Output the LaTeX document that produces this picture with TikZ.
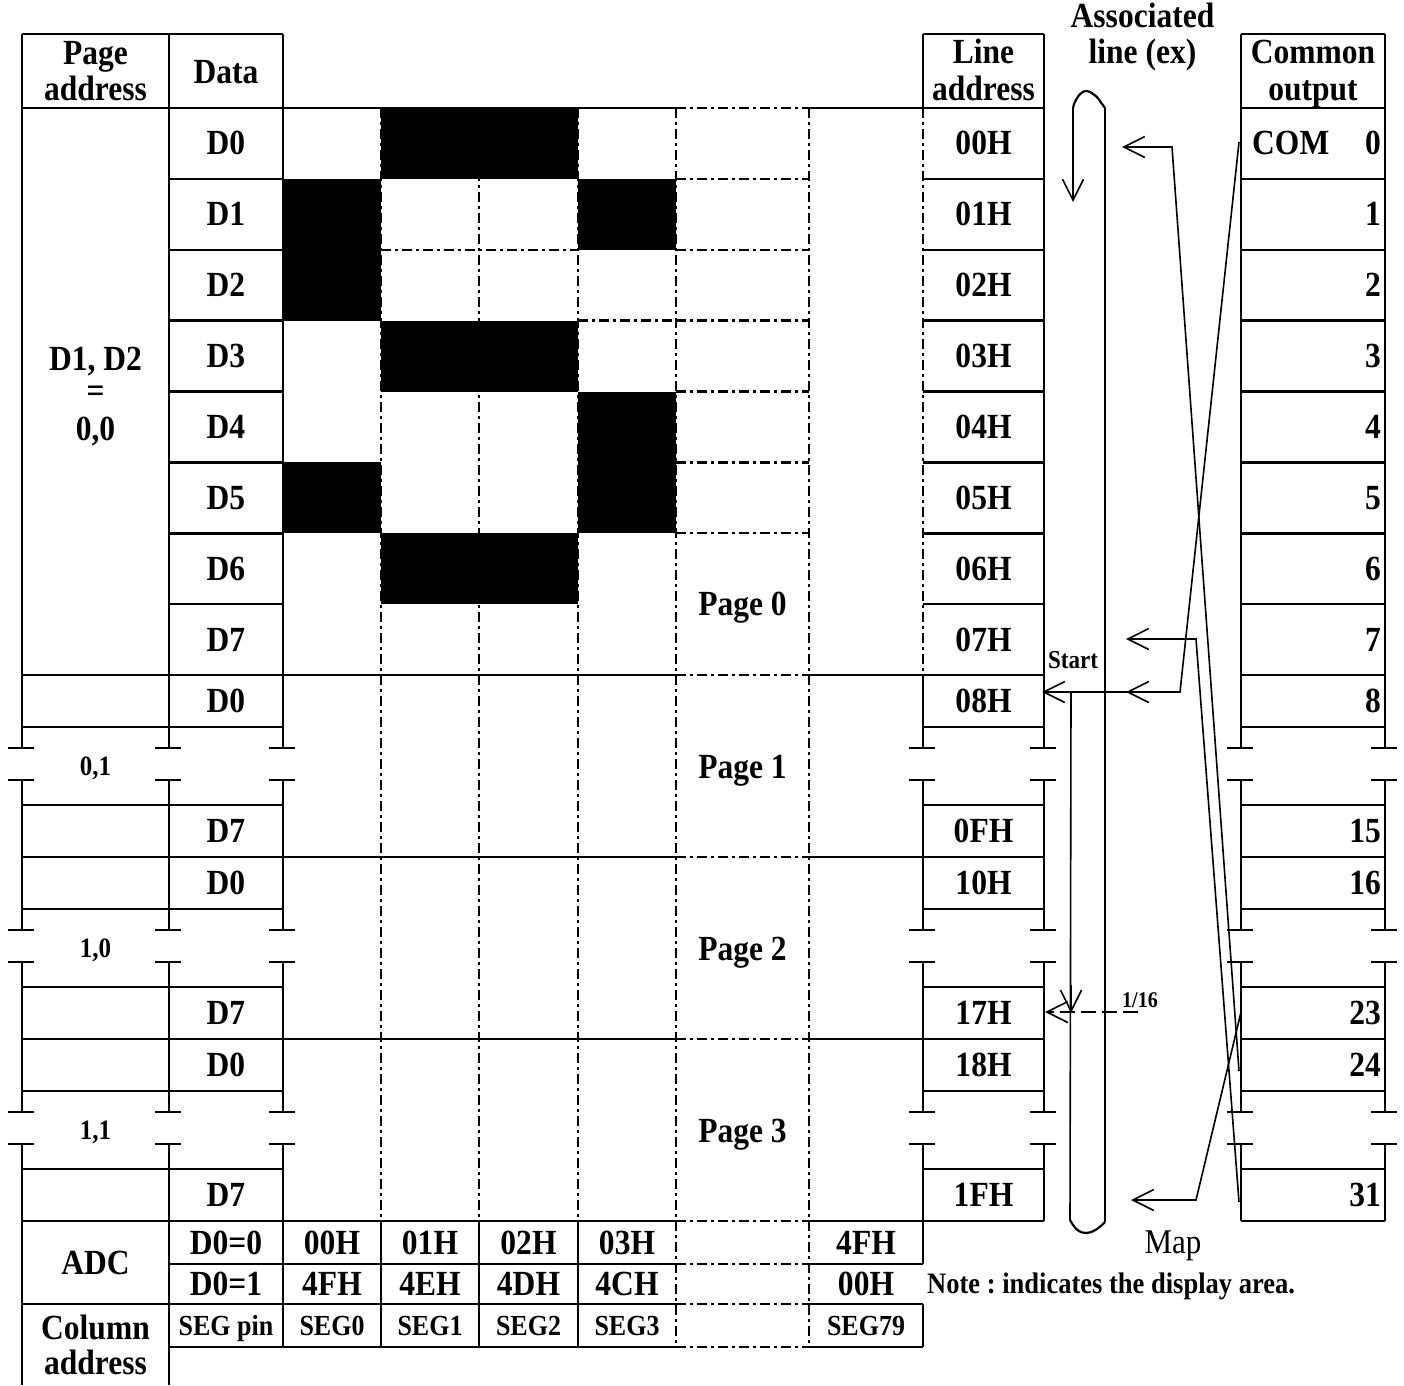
\documentclass[tikz,border=0pt]{standalone}
\usepackage{fontspec}
\setmainfont{Liberation Serif}[FakeStretch=0.893]
\usetikzlibrary{arrows.meta}
\begin{document}
\frenchspacing
\begin{tikzpicture}[x=1pt,y=-1pt,
 tl/.style={line width=2.5pt},
 dd/.style={line width=2.3pt,dash pattern=on 10pt off 4pt on 3pt off 4pt},
 conn/.style={line width=1.6pt},
 barb/.style={-{Straight Barb[length=21pt,width=21pt]}},
 tA/.style={font=\fontsize{35.3}{40}\selectfont\bfseries,inner sep=0pt,text height=23pt,text depth=0pt},
 tS/.style={font=\fontsize{29.1}{33}\selectfont\bfseries,inner sep=0pt,text height=19pt,text depth=0pt},
 tP/.style={font=\fontsize{28}{32}\selectfont\bfseries,inner sep=0pt,text height=18.3pt,text depth=0pt},
 tB/.style={font=\fontsize{35.3}{40}\selectfont\bfseries,inner sep=0pt,anchor=base},
]
\useasboundingbox (0,0) rectangle (1404,1385);

% ---------- page 0 display: dash-dot grid ----------
\foreach \x in {381,479,578} \draw[dd] (\x,108) -- (\x,1221);
\foreach \x in {676,809} \draw[dd] (\x,108) -- (\x,1347);
\foreach \y in {178.875,249.75,320.625,391.5,462.375,533.25} \draw[dd] (676,\y) -- (809,\y);
\draw[dd] (381,249.75) -- (578,249.75);
\draw[dd] (578,320.625) -- (676,320.625);

% black pixels
\fill (381,108) rectangle (578,178.875);
\fill (283,178.875) rectangle (381,320.625);
\fill (578,178.875) rectangle (676,249.75);
\fill (381,320.625) rectangle (578,391.5);
\fill (578,391.5) rectangle (676,533.25);
\fill (283,462.375) rectangle (381,533.25);
\fill (381,533.25) rectangle (578,604.125);

% ---------- vertical table lines with breaks ----------
\foreach \x/\e in {22/1385,169/1385,283/1347,1044/1221,1241/1221,1385/1221}
  \draw[tl] (\x,34) -- (\x,748) (\x,780) -- (\x,930) (\x,962) -- (\x,1112) (\x,1144) -- (\x,\e);
\draw[tl] (923,34) -- (923,108);
\draw[dd] (923,108) -- (923,675);
\draw[tl] (923,675) -- (923,748) (923,780) -- (923,930) (923,962) -- (923,1112)
  (923,1144) -- (923,1264) (923,1304) -- (923,1347);
\foreach \x in {381,479,578} \draw[tl] (\x,1221) -- (\x,1347);
% break ticks
\foreach \x in {22,169,283,923,1044,1241,1385}
  \foreach \y in {748,780,930,962,1112,1144}
    \draw[tl] (\x-14,\y) -- (\x+12,\y);

% ---------- horizontal table lines ----------
\draw[tl] (22,34) -- (283,34) (923,34) -- (1044,34) (1241,34) -- (1385,34);
\foreach \y in {108,675,857,1039,1221} {
  \draw[tl] (22,\y) -- (676,\y) (809,\y) -- (1044,\y) (1241,\y) -- (1385,\y);
  \draw[dd] (676,\y) -- (809,\y);
}
\foreach \y in {178.875,249.75,320.625,391.5,462.375,533.25,604.125}
  \draw[tl] (169,\y) -- (283,\y) (923,\y) -- (1044,\y) (1241,\y) -- (1385,\y);
\foreach \y in {727,805,909,987,1091,1169}
  \draw[tl] (22,\y) -- (283,\y) (923,\y) -- (1044,\y) (1241,\y) -- (1385,\y);
\draw[tl] (169,1264) -- (676,1264) (809,1264) -- (923,1264);
\draw[tl] (22,1304) -- (676,1304) (809,1304) -- (923,1304);
\draw[tl] (169,1347) -- (676,1347) (809,1347) -- (923,1347);
\draw[dd] (676,1264) -- (809,1264) (676,1304) -- (809,1304) (676,1347) -- (809,1347);

% ---------- headers ----------
\node[tB] (hpa1) at (95.5,64) {Page};
\node[tB] (hpa2) at (95.5,100) {address};
\node[tB] (hdat) at (226,83) {Data};
\node[tB] (hla1) at (983.5,63) {Line};
\node[tB] (hla2) at (983.5,100) {address};
\node[tB] (has1) at (1142.5,27) {Associated};
\node[tB] (has2) at (1142.5,63) {line (ex)};
\node[tB] (hco1) at (1313,63) {Common};
\node[tB] (hco2) at (1313,100) {output};

% ---------- page 0 labels ----------
\node[tB] (pa0a) at (95.5,370) {D1, D2};
\node[tB] (pa0b) at (95.5,402) {=};
\node[tB] (pa0c) at (95.5,440) {0,0};
\foreach \i/\yc in {0/143.44,1/214.31,2/285.19,3/356.06,4/426.94,5/497.81,6/568.69,7/639.56} {
  \node[tA] (dat\i) at (226,\yc) {D\i};
  \node[tA] (lad\i) at (983.5,\yc) {0\i H};
  \node[tA,anchor=east] (com\i) at (1381,\yc) {\i};
}
\node[tA,anchor=west] (comlbl) at (1252,143.44) {COM};
\node[tA] (pg0) at (742.5,604.1) {Page 0};

% ---------- pages 1-3 labels ----------
\node[tA] (p1d0) at (226,701) {D0};
\node[tA] (p1d7) at (226,831) {D7};
\node[tP] (pa1) at (95.5,766.5) {0,1};
\node[tA] (pg1) at (742.5,766.5) {Page 1};
\node[tA] (la8) at (983.5,701) {08H};
\node[tA] (la15) at (983.5,831) {0FH};
\node[tA,anchor=east] (co8) at (1381,701) {8};
\node[tA,anchor=east] (co15) at (1381,831) {15};

\node[tA] (p2d0) at (226,883) {D0};
\node[tA] (p2d7) at (226,1013) {D7};
\node[tP] (pa2) at (95.5,948.5) {1,0};
\node[tA] (pg2) at (742.5,948.5) {Page 2};
\node[tA] (la16) at (983.5,883) {10H};
\node[tA] (la23) at (983.5,1013) {17H};
\node[tA,anchor=east] (co16) at (1381,883) {16};
\node[tA,anchor=east] (co23) at (1381,1013) {23};

\node[tA] (p3d0) at (226,1065) {D0};
\node[tA] (p3d7) at (226,1195) {D7};
\node[tP] (pa3) at (95.5,1130.5) {1,1};
\node[tA] (pg3) at (742.5,1130.5) {Page 3};
\node[tA] (la24) at (983.5,1065) {18H};
\node[tA] (la31) at (983.5,1195) {1FH};
\node[tA,anchor=east] (co24) at (1381,1065) {24};
\node[tA,anchor=east] (co31) at (1381,1195) {31};

% ---------- ADC / column address ----------
\node[tA] (adc) at (95.5,1263) {ADC};
\node[tB] (cola) at (95.5,1339) {Column};
\node[tB] (colb) at (95.5,1374) {address};
\node[tA] (r0a) at (226,1243) {D0=0};
\node[tA] (r0b) at (332,1243) {00H};
\node[tA] (r0c) at (430,1243) {01H};
\node[tA] (r0d) at (528.5,1243) {02H};
\node[tA] (r0e) at (627,1243) {03H};
\node[tA] (r0f) at (866,1243) {4FH};
\node[tA] (r1a) at (226,1284) {D0=1};
\node[tA] (r1b) at (332,1284) {4FH};
\node[tA] (r1c) at (430,1284) {4EH};
\node[tA] (r1d) at (528.5,1284) {4DH};
\node[tA] (r1e) at (627,1284) {4CH};
\node[tA] (r1f) at (866,1284) {00H};
\node[tS] (s0) at (226,1325.5) {SEG pin};
\node[tS] (s1) at (332,1325.5) {SEG0};
\node[tS] (s2) at (430,1325.5) {SEG1};
\node[tS] (s3) at (528.5,1325.5) {SEG2};
\node[tS] (s4) at (627,1325.5) {SEG3};
\node[tS] (s5) at (866,1325.5) {SEG79};

% ---------- map tube ----------
\coordinate (tubeTL) at (1073,108);
\coordinate (tubeArr) at (1073,202);
\coordinate (tubeTR) at (1105,108);
\coordinate (tubeBR) at (1105,1222);
\coordinate (tubeIL) at (1071,692);
\coordinate (tubeBL) at (1070,1220);
\draw[conn,barb] (tubeTL) -- (tubeArr);
\draw[line width=2.2pt,line join=round] (tubeTL) -- (1074,104) .. controls (1078,95) and (1082,91) .. (1086,91)
  .. controls (1090,91) and (1093,94) .. (1097,97) -- (tubeTR);
\draw[conn] (tubeTR) -- (tubeBR);
\draw[conn] (tubeIL) -- (tubeBL);
\draw[line width=2.2pt] (tubeBL) .. controls (1075,1229) and (1079,1233) .. (1086,1233)
  .. controls (1093,1233) and (1099,1228) .. (tubeBR);

% ---------- connectors ----------
\coordinate (cA0) at (1239,142);
\coordinate (cA1) at (1180,692);
\coordinate (cAm) at (1126,692);
\coordinate (cAt) at (1042,692);
\draw[conn,barb] (cA0) -- (cA1) -- (cAt);
\draw[conn,barb] (cA1) -- (cAm);

\coordinate (cB0) at (1239,1071);
\coordinate (cB1) at (1172,147);
\coordinate (cB2) at (1122,147);
\draw[conn,barb] (cB0) -- (cB1) -- (cB2);

\coordinate (cC0) at (1239,1202);
\coordinate (cC1) at (1196,639);
\coordinate (cC2) at (1126,639);
\draw[conn,barb] (cC0) -- (cC1) -- (cC2);

\coordinate (cD0) at (1241,1012);
\coordinate (cD1) at (1196,1200);
\coordinate (cD2) at (1131,1200);
\draw[conn,barb] (cD0) -- (cD1) -- (cD2);

\coordinate (dsh0) at (1138,1012);
\coordinate (dsh1) at (1045,1012);
\draw[conn,barb,dash pattern=on 15pt off 6pt] (dsh0) -- (dsh1);
\coordinate (vA) at (1071,985);
\coordinate (vB) at (1071,1013);
\draw[conn,barb] (vA) -- (vB);

% ---------- small texts ----------
\node[font=\fontsize{25.8}{29}\selectfont\bfseries,inner sep=0pt] (start) at (1073,660) {Start};
\node[font=\fontsize{22.4}{26}\selectfont\bfseries,inner sep=0pt] (frac) at (1140,1000) {1/16};
\node[font=\fontsize{34.7}{40}\selectfont,inner sep=0pt,anchor=base] (map) at (1173,1253) {Map};
\node[font=\fontsize{29.7}{34}\selectfont\bfseries,inner sep=0pt,anchor=base west] (note) at (927,1293) {Note : indicates the display area.};
\end{tikzpicture}
\end{document}
